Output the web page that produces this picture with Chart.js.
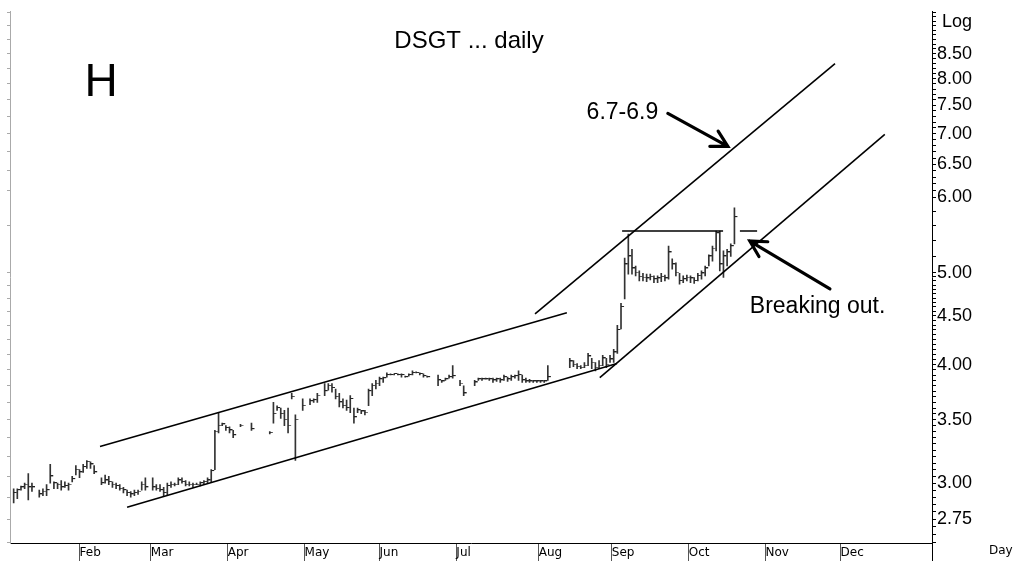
<!DOCTYPE html>
<html>
<head>
<meta charset="utf-8">
<script src="https://cdn.jsdelivr.net/npm/chart.js@4.4.0/dist/chart.umd.min.js"></script>
<style>
  html, body { margin: 0; padding: 0; background: #fff; }
  #wrap { width: 1021px; height: 561px; }
</style>
</head>
<body>
<div id="wrap"><canvas id="chart" width="1021" height="561"></canvas></div>
<script>
// array index = trading day since the start of the chart (null = no bar)
const highs = [
  null, 2.96, 2.96, 2.98, 3.00, 3.07, 3.00, null, 2.95, 2.96,
  2.99, 3.14, 3.01, 3.00, 3.02, 3.01, 3.00, 3.05, 3.13, 3.10,
  3.14, 3.17, 3.16, 3.13, null, 3.04, 3.06, 3.05, 3.01, 3.00,
  2.99, 2.97, 2.95, 2.94, 2.95, 2.95, 3.01, 3.04, null, 3.04,
  2.99, 2.99, 2.97, 3.00, 3.01, 3.00, 3.04, 3.04, 3.02, 3.01,
  3.00, 3.00, 3.01, 3.02, 3.04, 3.10, 3.41, 3.56, 3.47, 3.45,
  3.44, 3.41, null, 3.46, null, null, 3.47, null, null, null,
  null, 3.40, 3.65, 3.62, 3.60, 3.58, 3.60, 3.73, 3.54, null,
  3.68, null, 3.68, 3.68, 3.73, null, 3.82, 3.82, 3.82, 3.77,
  3.73, 3.68, 3.67, 3.71, 3.60, 3.60, 3.58, 3.58, 3.77, 3.82,
  3.85, 3.88, 3.88, 3.92, 3.91, 3.91, 3.91, 3.91, 3.89, 3.91,
  3.94, 3.93, 3.92, 3.91, 3.89, null, null, 3.90, 3.85, 3.87,
  3.90, 3.99, null, 3.85, 3.80, null, null, 3.85, 3.87, 3.87,
  3.87, 3.87, 3.87, 3.87, 3.87, 3.90, 3.88, 3.90, 3.90, 3.94,
  3.90, 3.87, 3.86, 3.85, 3.85, 3.85, 3.85, 3.99, null, null,
  null, null, null, 4.06, 4.04, 4.01, 3.99, 4.02, 4.11, 4.06,
  4.02, 4.04, 4.09, 4.06, 4.09, 4.15, 4.40, 4.64, 5.18, 5.49,
  5.29, 5.08, 5.02, 4.99, 4.98, 4.98, 4.96, 4.96, 4.99, 4.97,
  5.33, 5.17, 5.12, 4.99, 4.96, 4.97, 4.96, 4.94, 4.99, 5.02,
  5.08, 5.22, 5.33, 5.53, 5.53, 5.27, 5.29, 5.36, 5.85
];
const lows = [
  null, 2.86, 2.89, 2.95, 2.96, 2.88, 2.94, null, 2.90, 2.91,
  2.91, 3.00, 2.96, 2.96, 2.95, 2.97, 2.95, 3.01, 3.06, 3.04,
  3.08, 3.11, 3.11, 3.07, null, 2.99, 3.00, 2.99, 2.97, 2.96,
  2.95, 2.93, 2.91, 2.90, 2.91, 2.92, 2.95, 2.95, null, 2.95,
  2.95, 2.94, 2.91, 2.91, 2.97, 2.98, 2.99, 3.00, 2.98, 2.98,
  2.97, 2.99, 2.98, 2.99, 3.00, 3.01, 3.10, 3.39, 3.45, 3.41,
  3.39, 3.35, null, 3.44, null, null, 3.41, null, null, null,
  null, 3.38, 3.47, 3.58, 3.51, 3.45, 3.39, 3.68, 3.17, null,
  3.58, null, 3.63, 3.65, 3.65, null, 3.71, 3.76, 3.74, 3.68,
  3.61, 3.60, 3.58, 3.56, 3.47, 3.56, 3.55, 3.54, 3.62, 3.71,
  3.77, 3.80, 3.83, 3.88, 3.90, 3.90, 3.90, 3.88, 3.88, 3.89,
  3.90, 3.92, 3.90, 3.88, 3.88, null, null, 3.80, 3.83, 3.85,
  3.87, 3.87, null, 3.80, 3.71, null, null, 3.80, 3.85, 3.85,
  3.86, 3.85, 3.83, 3.84, 3.83, 3.85, 3.84, 3.85, 3.87, 3.85,
  3.83, 3.83, 3.83, 3.83, 3.83, 3.83, 3.83, 3.85, null, null,
  null, null, null, 3.97, 3.98, 3.96, 3.96, 3.97, 3.99, 3.96,
  3.94, 3.96, 3.99, 3.97, 4.02, 4.02, 4.11, 4.36, 4.69, 4.98,
  4.98, 4.96, 4.90, 4.90, 4.89, 4.91, 4.88, 4.88, 4.89, 4.90,
  4.92, 5.04, 4.96, 4.86, 4.88, 4.90, 4.88, 4.87, 4.90, 4.92,
  4.96, 5.08, 5.14, 5.27, 5.02, 4.94, 5.08, 5.20, 5.36
];
const closes = [
  null, 2.93, 2.95, 2.97, 2.99, 2.97, 2.97, null, 2.92, 2.94,
  2.95, 3.05, 3.00, 2.99, 2.97, 2.98, 2.99, 3.03, 3.10, 3.08,
  3.12, 3.16, 3.14, 3.08, null, 3.00, 3.02, 3.01, 2.99, 2.98,
  2.96, 2.95, 2.93, 2.92, 2.93, 2.94, 2.99, 2.97, null, 2.97,
  2.96, 2.95, 2.93, 2.98, 2.99, 2.99, 3.02, 3.01, 2.99, 2.99,
  2.99, 2.99, 3.00, 3.01, 3.02, 3.09, 3.40, 3.45, 3.46, 3.43,
  3.41, 3.37, null, 3.45, null, null, 3.42, null, null, null,
  null, 3.39, 3.55, 3.60, 3.55, 3.50, 3.45, 3.70, 3.50, null,
  3.62, null, 3.66, 3.67, 3.71, null, 3.75, 3.80, 3.78, 3.70,
  3.65, 3.62, 3.60, 3.68, 3.52, 3.58, 3.57, 3.56, 3.75, 3.80,
  3.82, 3.86, 3.87, 3.90, 3.90, 3.91, 3.90, 3.90, 3.88, 3.90,
  3.92, 3.92, 3.91, 3.89, 3.88, null, null, 3.85, 3.84, 3.86,
  3.88, 3.89, null, 3.82, 3.73, null, null, 3.83, 3.86, 3.86,
  3.86, 3.86, 3.85, 3.86, 3.85, 3.88, 3.86, 3.88, 3.89, 3.90,
  3.85, 3.84, 3.84, 3.84, 3.84, 3.84, 3.84, 3.88, null, null,
  null, null, null, 4.03, 4.00, 3.98, 3.97, 3.99, 4.08, 4.02,
  3.97, 3.99, 4.06, 4.00, 4.05, 4.12, 4.35, 4.60, 5.10, 5.20,
  5.05, 5.00, 4.95, 4.94, 4.93, 4.95, 4.92, 4.93, 4.95, 4.93,
  5.25, 5.10, 5.00, 4.90, 4.92, 4.94, 4.93, 4.90, 4.96, 4.99,
  5.05, 5.20, 5.30, 5.50, 5.10, 5.20, 5.25, 5.33, 5.72
];

const monthDays = [19, 38.5, 59.5, 80.5, 101, 122, 144.5, 164.5, 185.5, 206.5, 227];
const monthLabels = ['Feb', 'Mar', 'Apr', 'May', 'Jun', 'Jul', 'Aug', 'Sep', 'Oct', 'Nov', 'Dec'];
const priceTicks = [2.75, 3.00, 3.50, 4.00, 4.50, 5.00, 6.00, 6.50, 7.00, 7.50, 8.00, 8.50];

// trend lines, [day, price] end points
const lowerChannel = [[32, 2.83], [165.9, 4.01]];
const upperChannel = [[24.6, 3.28], [152.2, 4.535]];
const steepLower = [[161.2, 3.876], [239.1, 6.99]];
const steepUpper = [[143.5, 4.524], [225.5, 8.30]];
const resistance = [[167.3, 5.53], [194.9, 5.53]];
const resistanceStub = [[199.5, 5.53], [204.2, 5.53]];

// arrows: [tail, head] in [day, price]
const arrowTarget = [[179.8, 7.354], [196.2, 6.79]];
const arrowBreak = [[224.1, 4.806], [202.2, 5.397]];

const yMin = 2.595, yMax = 9.41;

const toPts = seg => seg.map(p => ({ x: p[0], y: p[1] }));

const rangeBars = [];
const closePts = [];
highs.forEach((h, i) => {
  if (h == null) return;
  rangeBars.push({ x: i, y: [lows[i], h] });
  closePts.push({ x: i, y: closes[i] });
});

// little right-hand tick for the close
const closeMark = document.createElement('canvas');
closeMark.width = 8; closeMark.height = 2;
const cm = closeMark.getContext('2d');
cm.fillStyle = '#222';
cm.fillRect(4, 0, 3, 1);

// minor marks on the price axis
const axisMarks = [];
for (let v = 2.6; v < 9.4; v += (v < 4.99 ? 0.05 : v < 5.99 ? 0.2 : 0.1)) {
  axisMarks.push(Math.round(v * 100) / 100);
}
priceTicks.forEach(p => { if (!axisMarks.some(m => Math.abs(m - p) < 1e-6)) axisMarks.push(p); });
axisMarks.sort((a, b) => a - b);

function trend(seg) {
  return {
    type: 'line', data: toPts(seg), borderColor: '#000', borderWidth: 1.6,
    pointRadius: 0, tension: 0, order: 0
  };
}

function drawArrow(ctx, x1, y1, x2, y2) {
  const ang = Math.atan2(y2 - y1, x2 - x1);
  const len = 18;
  ctx.beginPath();
  ctx.moveTo(x1, y1);
  ctx.lineTo(x2, y2);
  ctx.moveTo(x2 - len * Math.cos(ang - 0.5), y2 - len * Math.sin(ang - 0.5));
  ctx.lineTo(x2, y2);
  ctx.lineTo(x2 - len * Math.cos(ang + 0.5), y2 - len * Math.sin(ang + 0.5));
  ctx.stroke();
}

const notes = {
  id: 'notes',
  afterDraw(chart) {
    const { ctx, scales } = chart;
    const x = scales.x, y = scales.y;
    ctx.save();
    ctx.fillStyle = '#000';
    ctx.strokeStyle = '#000';

    ctx.textBaseline = 'middle';
    ctx.textAlign = 'center';
    ctx.font = '24px "Liberation Sans", Arial, sans-serif';
    ctx.fillText('DSGT ... daily', 469, 41);
    ctx.font = '46px "Liberation Sans", Arial, sans-serif';
    ctx.fillText('H', 101, 83);

    ctx.textAlign = 'left';
    ctx.font = '23px "Liberation Sans", Arial, sans-serif';
    ctx.fillText('6.7-6.9', x.getPixelForValue(157.6), y.getPixelForValue(7.36));
    ctx.fillText('Breaking out.', x.getPixelForValue(202.2), y.getPixelForValue(4.60));

    ctx.font = '18px "Liberation Sans", Arial, sans-serif';
    ctx.fillText('Log', 942, 22);
    ctx.font = '12px "DejaVu Sans", sans-serif';
    ctx.fillText('Day', 989, 551);

    // price axis runs down past the time axis
    ctx.lineWidth = 1;
    ctx.beginPath();
    ctx.moveTo(x.right + 0.5, chart.chartArea.bottom);
    ctx.lineTo(x.right + 0.5, chart.height);
    ctx.stroke();

    ctx.lineWidth = 3.2;
    ctx.lineCap = 'round';
    [arrowTarget, arrowBreak].forEach(a => {
      drawArrow(ctx,
        x.getPixelForValue(a[0][0]), y.getPixelForValue(a[0][1]),
        x.getPixelForValue(a[1][0]), y.getPixelForValue(a[1][1]));
    });
    ctx.restore();
  }
};

new Chart(document.getElementById('chart'), {
  type: 'bar',
  data: {
    datasets: [
      {
        type: 'bar', data: rangeBars, backgroundColor: '#333', borderWidth: 0,
        barThickness: 1, grouped: false, order: 2
      },
      {
        type: 'line', data: closePts, showLine: false, pointStyle: closeMark,
        pointRadius: 3, order: 1
      },
      trend(lowerChannel),
      trend(upperChannel),
      trend(steepLower),
      trend(steepUpper),
      trend(resistance),
      trend(resistanceStub)
    ]
  },
  options: {
    responsive: false,
    animation: false,
    events: [],
    layout: { padding: { top: 10, left: 0, right: 0, bottom: 0 } },
    plugins: { legend: { display: false }, tooltip: { enabled: false } },
    scales: {
      x: {
        type: 'linear', min: 0, max: 252, offset: false,
        afterBuildTicks: s => { s.ticks = monthDays.map(v => ({ value: v })); },
        afterFit: s => { s.height = 18; },
        grid: { drawOnChartArea: false, offset: false, tickLength: 18, color: '#555', lineWidth: 1 },
        border: { color: '#000', width: 1 },
        ticks: {
          autoSkip: false, maxRotation: 0, align: 'start', padding: -15, color: '#000',
          font: { family: '"DejaVu Sans", sans-serif', size: 12 },
          callback: (v, i) => monthLabels[i]
        }
      },
      y: {
        type: 'logarithmic', position: 'right', min: yMin, max: yMax,
        afterBuildTicks: s => { s.ticks = axisMarks.map(v => ({ value: v })); },
        afterFit: s => { s.width = 89; },
        grid: { drawOnChartArea: false, tickLength: 4, color: '#000' },
        border: { color: '#000', width: 1 },
        ticks: {
          autoSkip: false, padding: 1, color: '#000',
          font: { family: '"Liberation Sans", Arial, sans-serif', size: 18 },
          callback: v => {
            const p = priceTicks.find(t => Math.abs(t - v) < 1e-6);
            return p ? p.toFixed(2) : '';
          }
        }
      },
      yl: {
        type: 'logarithmic', position: 'left', min: yMin, max: yMax,
        afterBuildTicks: s => { s.ticks = axisMarks.filter((v, i) => i % 3 === 0).map(v => ({ value: v })); },
        afterFit: s => { s.width = 10; },
        grid: { drawOnChartArea: false, tickLength: 3, color: '#aaa' },
        border: { color: '#aaa', dash: [1, 3] },
        ticks: { display: false }
      }
    }
  },
  plugins: [notes]
});
</script>
</body>
</html>
